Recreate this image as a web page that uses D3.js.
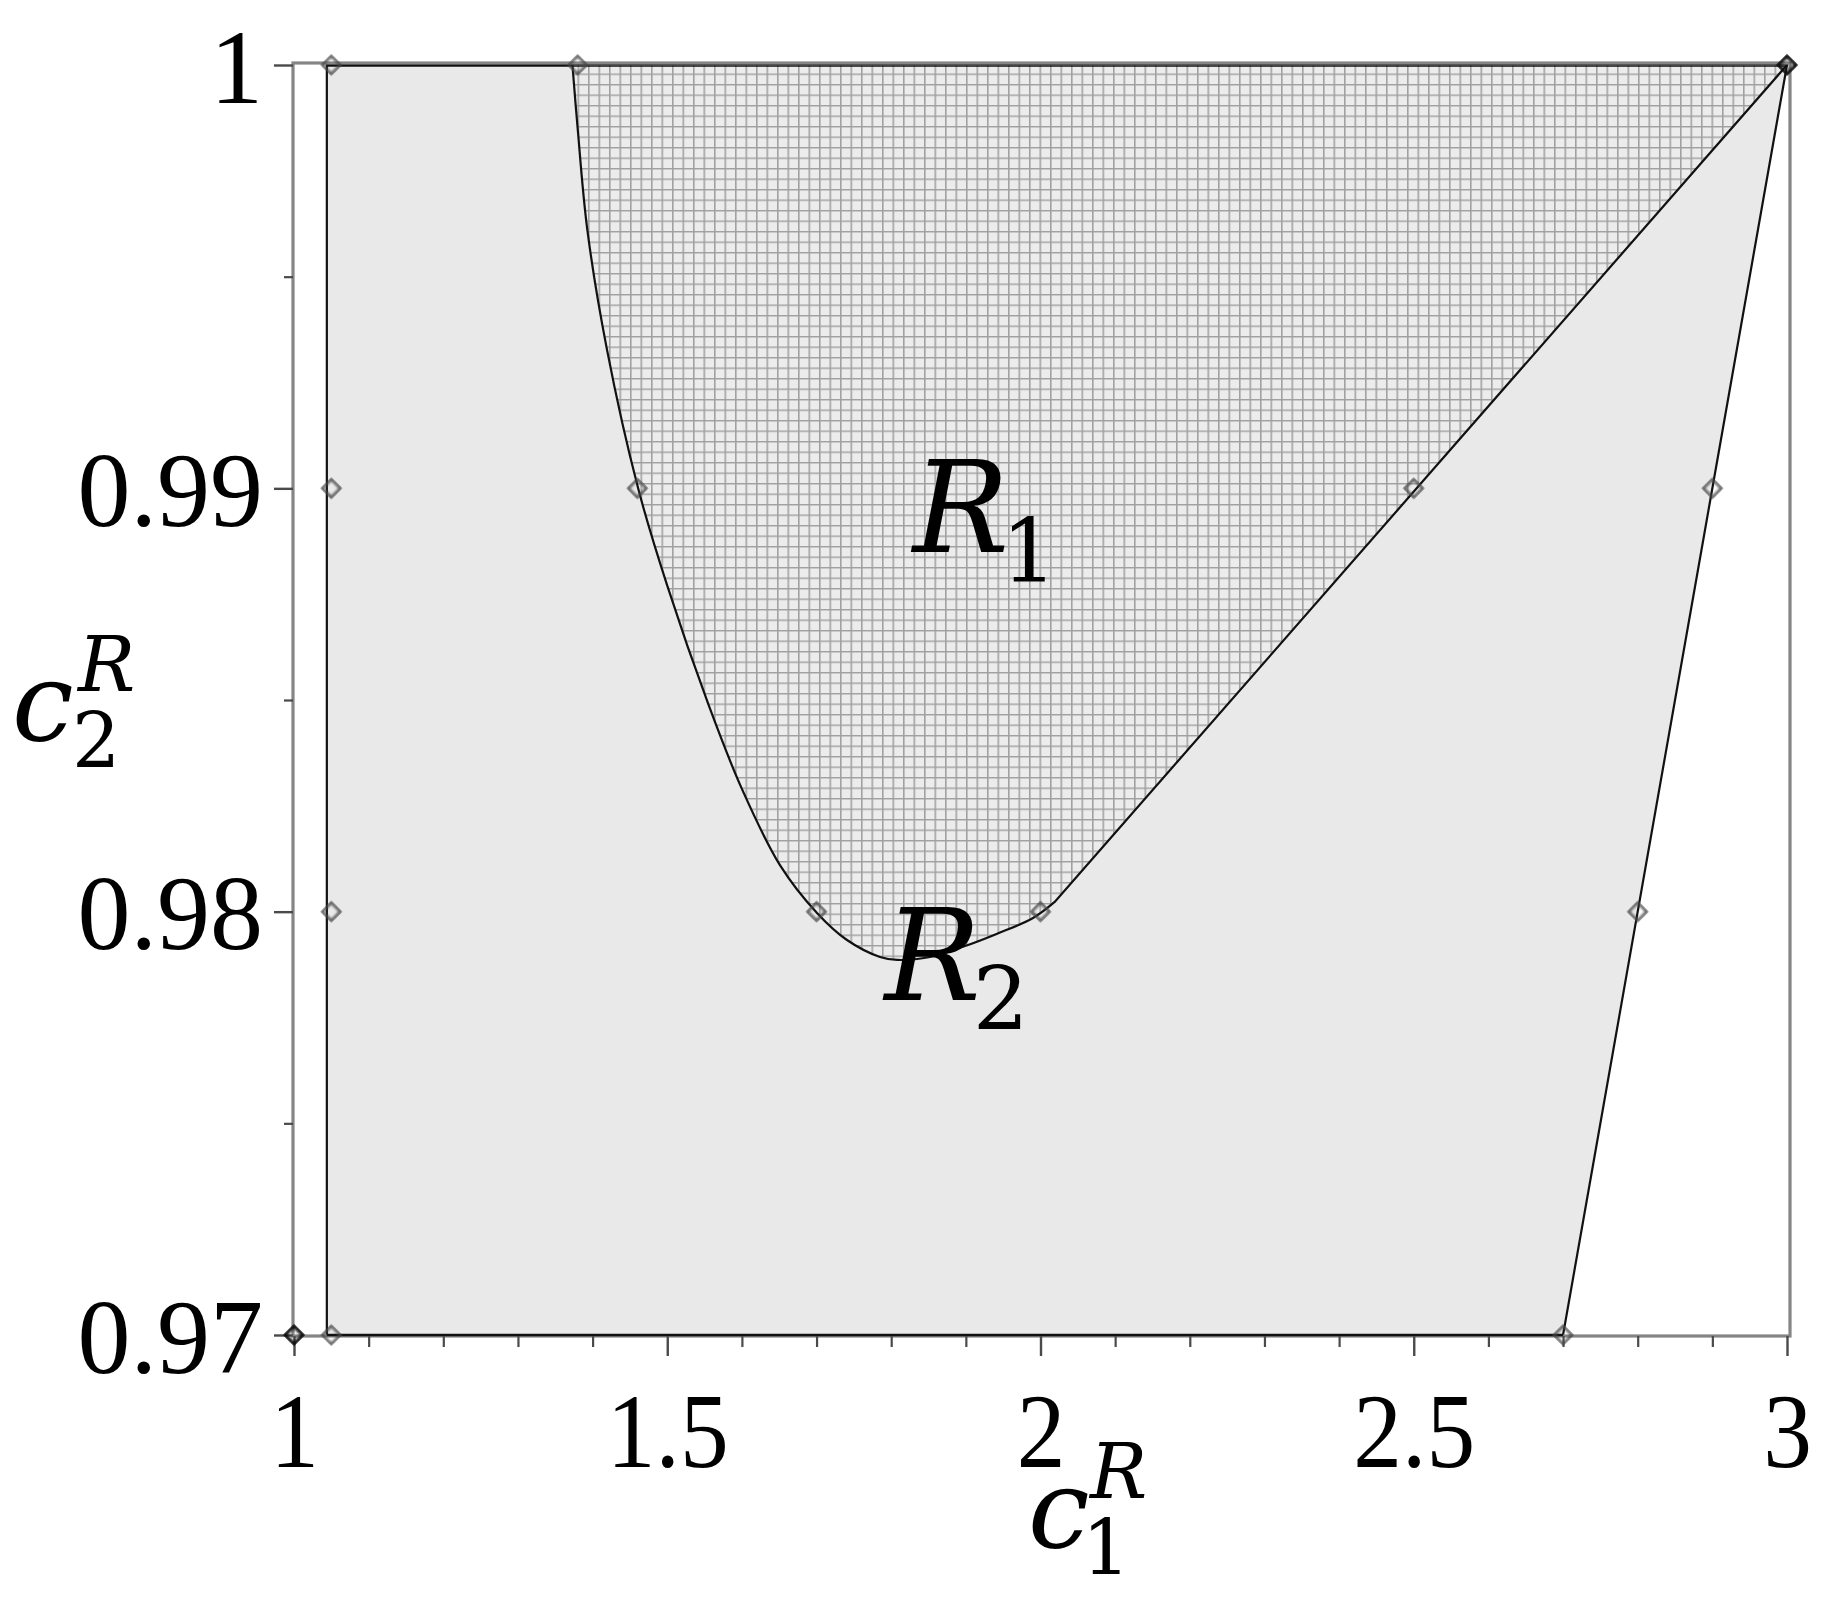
<!DOCTYPE html>
<html><head><meta charset="utf-8">
<script src="https://cdn.jsdelivr.net/npm/d3@7"></script>
<style>body{margin:0;background:#fff}</style>
</head><body>
<svg id="chart" width="1837" height="1601"></svg>
<script>
// ---- data ----
const xTicks = [1, 1.5, 2, 2.5, 3];
const xTickLabels = ["1", "1.5", "2", "2.5", "3"];
const xMinorTicks = [1.1,1.2,1.3,1.4,1.6,1.7,1.8,1.9,2.1,2.2,2.3,2.4,2.6,2.7,2.8,2.9];
const yTicks = [0.97, 0.98, 0.99, 1];
const yTickLabels = ["0.97", "0.98", "0.99", "1"];
const yMinorTicks = [0.975, 0.985, 0.995];
// light grey region (c1, c2)
const regionC1 = [1.044, 1.044, 3.0, 2.70];
const regionC2 = [0.97, 1.0, 1.0, 0.97];
// hatched region R1: curved lower-left boundary, then a straight edge to (3,1)
const r1CurveC1 = [1.373, 1.380, 1.393, 1.419, 1.461, 1.50, 1.555, 1.600, 1.651, 1.7006, 1.7408, 1.785, 1.808, 1.852, 1.896, 1.942, 1.990, 2.019];
const r1CurveC2 = [1.0, 0.9985, 0.9961, 0.9933, 0.9900, 0.9877, 0.9849, 0.9829, 0.9811, 0.97997, 0.97933, 0.97893, 0.97886, 0.97893, 0.97917, 0.97948, 0.97985, 0.98023];
const r1CornerC1 = [3.0];
const r1CornerC2 = [1.0];
// diamond markers
const markerC1 = [1.0, 1.05, 1.05, 1.05, 1.05, 1.38, 1.46, 1.70, 2.00, 2.50, 2.70, 2.80, 2.90, 3.0];
const markerC2 = [0.97, 0.97, 0.98, 0.99, 1.0, 1.0, 0.99, 0.98, 0.98, 0.99, 0.97, 0.98, 0.99, 1.0];
const markerBold = [true, false, false, false, false, false, false, false, false, false, false, false, false, true];
// region labels
const regionLabels = ["R", "R"];
const regionSubs = ["1", "2"];
const regionLabelC1 = [1.829, 1.791];
const regionLabelC2 = [0.9885, 0.97791];

// ---- layout ----
const svg = d3.select("#chart");
const L = 294, R = 1787, T = 65, B = 1335;
const x = d3.scaleLinear().domain([1, 3]).range([L, R]);
const y = d3.scaleLinear().domain([0.97, 1]).range([B, T]);

const defs = svg.append("defs");
const pat = defs.append("pattern").attr("id", "grid")
  .attr("patternUnits", "userSpaceOnUse").attr("width", 10.5).attr("height", 10.5);
pat.append("rect").attr("width", 10.5).attr("height", 10.5).attr("fill", "#ececec");
pat.append("path").attr("d", "M0,0.75H10.5M0.75,0V10.5").attr("stroke", "#a0a0a0").attr("stroke-width", 1.6);

const blur = defs.append("filter").attr("id", "soft");
blur.append("feGaussianBlur").attr("stdDeviation", 0.8);

// grey region
const region = regionC1.map((c, i) => [c, regionC2[i]]);
const lin = d3.line().x(d => x(d[0])).y(d => y(d[1]));
svg.append("path").attr("d", lin(region) + "Z")
  .attr("fill", "#e9e9e9").attr("stroke", "#111").attr("stroke-width", 2.2);

// hatched R1
const curvePts = r1CurveC1.map((c, i) => [c, r1CurveC2[i]]);
const curveLine = d3.line().x(d => x(d[0])).y(d => y(d[1])).curve(d3.curveCatmullRom.alpha(0.5));
const cornerPts = r1CornerC1.map((c, i) => [c, r1CornerC2[i]]);
const curveD = curveLine(curvePts);
const edgeD = cornerPts.map(p => `L${x(p[0])},${y(p[1])}`).join("");
svg.append("path").attr("d", curveD + edgeD + "Z").attr("fill", "url(#grid)").attr("stroke", "none");
svg.append("path").attr("d", curveD + edgeD).attr("fill", "none").attr("stroke", "#111").attr("stroke-width", 2.2);

// frame
const frameColor = "#858585";
svg.append("rect").attr("x", L - 1).attr("y", T - 2).attr("width", R - L + 4).attr("height", B - T + 3)
  .attr("fill", "none").attr("stroke", frameColor).attr("stroke-width", 3.2);
svg.append("path").attr("d", lin([[regionC1[0], 0.97], [regionC1[3], 0.97]]))
  .attr("stroke", "#111").attr("stroke-width", 2.4);
svg.append("path").attr("d", lin([[regionC1[1], 1], [regionC1[2], 1]]))
  .attr("stroke", "#111").attr("stroke-width", 1.6).attr("transform", "translate(0,1)");

// axes
const tickColor = "#4a4a4a";
const serif = "'Liberation Serif', 'Times New Roman', serif";
const xAxis = svg.append("g").attr("transform", `translate(0,${B + 1})`)
  .call(d3.axisBottom(x).tickValues(xTicks).tickSize(20).tickSizeOuter(0).tickFormat((d, i) => xTickLabels[i]));
xAxis.select(".domain").remove();
xAxis.selectAll(".tick line").attr("stroke", tickColor).attr("stroke-width", 2.4);
xAxis.selectAll(".tick text").attr("font-family", serif)
  .attr("font-size", 106).attr("fill", "#000").attr("y", 0).attr("dy", 0)
  .attr("transform", "translate(0,131) scale(0.92,1)");
const xMinor = svg.append("g").attr("transform", `translate(0,${B + 1})`)
  .call(d3.axisBottom(x).tickValues(xMinorTicks).tickSize(11).tickFormat(""));
xMinor.select(".domain").remove();
xMinor.selectAll(".tick line").attr("stroke", tickColor).attr("stroke-width", 2.2);

const yAxis = svg.append("g").attr("transform", `translate(${L - 1},0)`)
  .call(d3.axisLeft(y).tickValues(yTicks).tickSize(19).tickSizeOuter(0).tickFormat((d, i) => yTickLabels[i]));
yAxis.select(".domain").remove();
yAxis.selectAll(".tick line").attr("stroke", tickColor).attr("stroke-width", 2.4);
yAxis.selectAll(".tick text").attr("font-family", serif)
  .attr("font-size", 106).attr("fill", "#000").attr("x", -30).attr("dy", 0).attr("y", 37);
const yMinor = svg.append("g").attr("transform", `translate(${L - 1},0)`)
  .call(d3.axisLeft(y).tickValues(yMinorTicks).tickSize(9).tickFormat(""));
yMinor.select(".domain").remove();
yMinor.selectAll(".tick line").attr("stroke", tickColor).attr("stroke-width", 2.2);

// markers
const sym = d3.symbol().type(d3.symbolSquare).size(170);
svg.append("g").selectAll("path").data(markerC1.map((c, i) => ({c1: c, c2: markerC2[i], bold: markerBold[i]})))
  .join("path")
  .attr("d", sym)
  .attr("transform", d => `translate(${x(d.c1)},${y(d.c2)}) rotate(45)`)
  .attr("fill", "none")
  .attr("stroke", d => d.bold ? "#111" : "#444")
  .attr("stroke-width", d => d.bold ? 4 : 3)
  .attr("stroke-opacity", d => d.bold ? 1 : 0.85)
  .attr("filter", "url(#soft)");

// region labels
const mathFont = "'DejaVu Serif', serif";
regionLabels.forEach((t, i) => {
  const g = svg.append("text").attr("x", x(regionLabelC1[i])).attr("y", y(regionLabelC2[i]))
    .attr("font-family", mathFont).attr("fill", "#000");
  g.append("tspan").text(t).attr("font-style", "italic").attr("font-size", 128);
  g.append("tspan").text(regionSubs[i]).attr("font-size", 88).attr("dx", -8).attr("dy", 30);
});

// axis titles (one text element each)
function axisTitle(cx, cy, sub, rdx, sdx) {
  const t = svg.append("text").attr("font-family", mathFont).attr("fill", "#000");
  t.append("tspan").attr("x", cx).attr("y", cy).attr("font-style", "italic").attr("font-size", 110).text("c");
  t.append("tspan").attr("x", cx + rdx).attr("y", cy - 49).attr("font-style", "italic").attr("font-size", 76).text("R");
  t.append("tspan").attr("x", cx + sdx).attr("y", cy + 27).attr("font-size", 76).text(sub);
}
axisTitle(1028, 1547, "1", 62, 54);
axisTitle(12, 740, "2", 66, 60);
</script>
</body></html>
